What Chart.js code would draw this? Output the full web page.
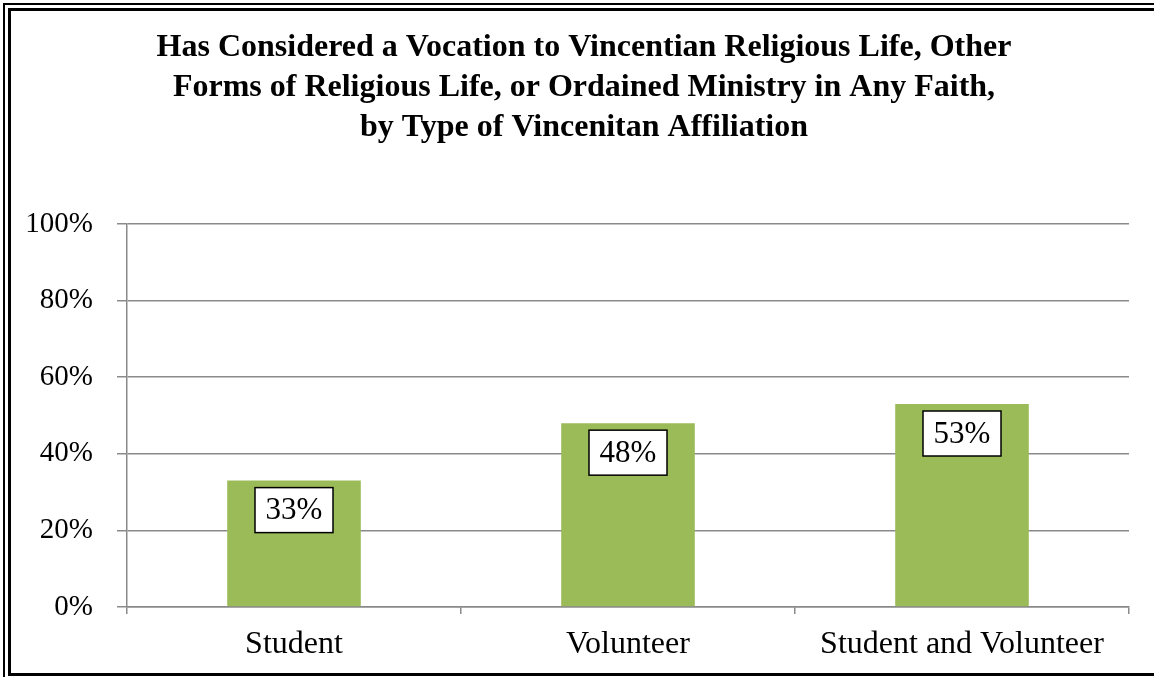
<!DOCTYPE html>
<html>
<head>
<meta charset="utf-8">
<script src="https://cdn.jsdelivr.net/npm/chart.js@4"></script>
<style>
    body { margin: 0; background: #fff; overflow: hidden; }
    #wrap { position: absolute; left: 0; top: 0; width: 1154px; height: 677px; }
    #frameOuter { position: absolute; left: 3px; top: 3px; width: 1160px; height: 690px; border: 2px solid #000; }
    #frameInner { position: absolute; left: 8px; top: 8px; width: 1160px; height: 662px; border: 3px solid #000; }
    canvas { position: absolute; left: 0; top: 0; }
</style>
</head>
<body>
<div id="wrap">
    <canvas id="vocationChart" width="1154" height="677"></canvas>
    <div id="frameOuter"></div>
    <div id="frameInner"></div>
</div>
<script>
// Chart data
const categories = ['Student', 'Volunteer', 'Student and Volunteer'];
const considered = [33, 48, 53];
const yTicks = [0, 20, 40, 60, 80, 100];
const titleLines = [
    'Has Considered a Vocation to Vincentian Religious Life, Other',
    'Forms of Religious Life, or Ordained Ministry in Any Faith,',
    'by Type of Vincenitan Affiliation'
];

const serif = '"Liberation Serif", "Times New Roman", serif';
const gridGray = '#8a8a8a';

// Title is drawn by hand so it can sit a bit right of the canvas centre
const chartTitle = {
    id: 'chartTitle',
    afterDraw(chart) {
        const ctx = chart.ctx;
        ctx.save();
        ctx.font = 'bold 32px ' + serif;
        ctx.fillStyle = '#000';
        ctx.textAlign = 'center';
        ctx.textBaseline = 'middle';
        titleLines.forEach((line, i) => {
            ctx.fillText(line, 584, 48 + i * 40);
        });
        ctx.restore();
    }
};

// Boxed value labels inside the top of each bar
const boxLabels = {
    id: 'boxLabels',
    afterDatasetsDraw(chart) {
        const ctx = chart.ctx;
        const meta = chart.getDatasetMeta(0);
        ctx.save();
        ctx.font = '31px ' + serif;
        ctx.textAlign = 'center';
        ctx.textBaseline = 'middle';
        meta.data.forEach((bar, i) => {
            const w = 78, h = 45;
            const x = bar.x - w / 2;
            const y = bar.y + 7;
            ctx.fillStyle = '#fff';
            ctx.fillRect(x, y, w, h);
            ctx.strokeStyle = '#000';
            ctx.lineWidth = 1.5;
            ctx.strokeRect(x, y, w, h);
            ctx.fillStyle = '#000';
            ctx.fillText(considered[i] + '%', bar.x, y + h / 2 + 1);
        });
        ctx.restore();
    }
};

new Chart(document.getElementById('vocationChart'), {
    type: 'bar',
    data: {
        labels: categories,
        datasets: [{
            data: considered,
            backgroundColor: '#9BBB59',
            barPercentage: 0.4,
            categoryPercentage: 1.0
        }]
    },
    options: {
        responsive: false,
        animation: false,
        layout: { padding: { left: 0, right: 25, top: 224, bottom: 0 } },
        plugins: {
            legend: { display: false },
            tooltip: { enabled: false },
            title: { display: false }
        },
        scales: {
            x: {
                grid: {
                    offset: true,
                    drawOnChartArea: false,
                    color: gridGray,
                    lineWidth: 1.5,
                    tickLength: 7
                },
                border: { color: gridGray, width: 1.5 },
                ticks: {
                    color: '#000',
                    font: { family: serif, size: 32 },
                    padding: 11
                },
                afterFit: (scale) => { scale.height = 70; }
            },
            y: {
                min: 0,
                max: 100,
                afterBuildTicks: (scale) => {
                    scale.ticks = yTicks.map(v => ({ value: v }));
                },
                grid: {
                    color: gridGray,
                    lineWidth: 1.5,
                    tickLength: 10
                },
                border: { color: gridGray, width: 1.5 },
                ticks: {
                    color: '#000',
                    font: { family: serif, size: 29 },
                    padding: 24,
                    callback: (v) => v + '%'
                },
                afterFit: (scale) => { scale.width = 127; }
            }
        }
    },
    plugins: [boxLabels, chartTitle]
});
</script>
</body>
</html>
